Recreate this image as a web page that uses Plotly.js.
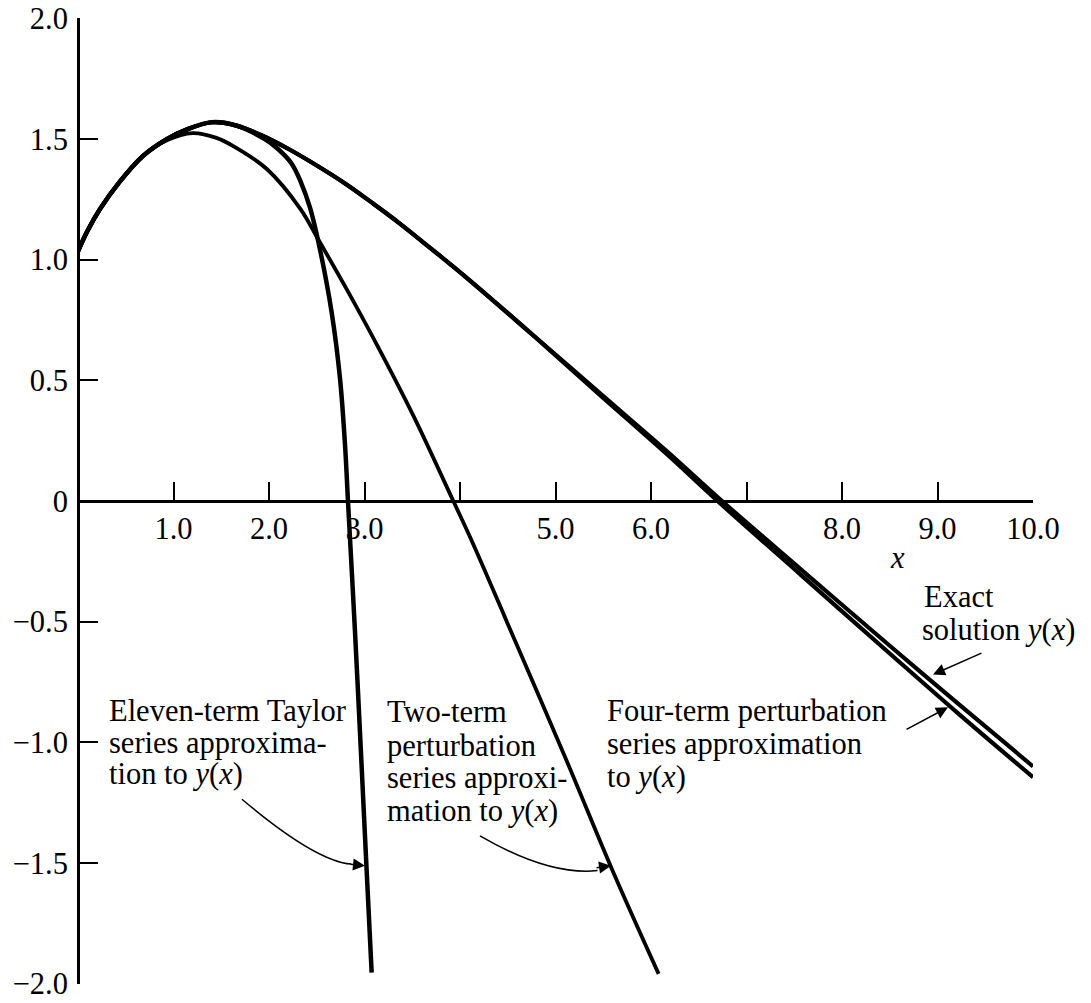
<!DOCTYPE html>
<html>
<head>
<meta charset="utf-8">
<script src="https://cdn.plot.ly/plotly-3.0.1.min.js"></script>
<style>html,body{margin:0;padding:0;background:#fff;}#chart{width:1091px;height:1003px;}</style>
</head>
<body>
<div id="chart"></div>
<script>
// Exact solution y(x)
const exactX = [0, 0.1, 0.23, 0.43, 0.68, 0.93, 1.14, 1.4, 1.65, 1.92, 2.2, 2.44, 2.8, 3.1, 3.37, 3.7, 4.07, 4.77, 5.47, 6.17, 6.72, 7.56, 8.5, 9.2, 10];
const exactY = [1.035, 1.12, 1.21, 1.32, 1.43, 1.50, 1.54, 1.57, 1.557, 1.516, 1.46, 1.405, 1.315, 1.23, 1.15, 1.045, 0.925, 0.686, 0.445, 0.205, 0.008, -0.28, -0.6, -0.835, -1.10];
// Four-term perturbation series
const fourX = [0, 0.1, 0.23, 0.43, 0.68, 0.93, 1.14, 1.4, 1.65, 1.92, 2.2, 2.44, 2.8, 3.1, 3.37, 3.7, 4.07, 4.77, 5.47, 6.17, 6.72, 7.56, 8.5, 9.2, 10];
const fourY = [1.035, 1.12, 1.21, 1.32, 1.43, 1.50, 1.54, 1.57, 1.557, 1.516, 1.46, 1.405, 1.315, 1.23, 1.15, 1.045, 0.925, 0.685, 0.438, 0.193, -0.008, -0.303, -0.632, -0.875, -1.145];
// Two-term perturbation series
const twoX = [0, 0.1, 0.23, 0.43, 0.68, 0.93, 1.2, 1.45, 1.63, 1.98, 2.33, 2.5, 2.81, 3.14, 3.51, 3.93, 4.14, 4.49, 5.12, 5.59, 6.08];
const twoY = [1.035, 1.12, 1.21, 1.32, 1.43, 1.495, 1.525, 1.505, 1.47, 1.375, 1.21, 1.095, 0.88, 0.64, 0.355, 0.0, -0.18, -0.5, -1.08, -1.525, -1.96];
// Eleven-term Taylor series
const taylorX = [0, 0.1, 0.23, 0.43, 0.68, 0.93, 1.14, 1.4, 1.65, 1.955, 2.094, 2.234, 2.33, 2.43, 2.53, 2.656, 2.743, 2.796, 2.827, 2.899, 2.967, 3.021, 3.075];
const taylorY = [1.035, 1.12, 1.21, 1.32, 1.43, 1.50, 1.54, 1.57, 1.557, 1.50, 1.459, 1.40, 1.325, 1.215, 1.05, 0.782, 0.51, 0.233, 0.0, -0.53, -1.075, -1.52, -1.955];

const xTickVals = [1, 2, 3, 4, 5, 6, 7, 8, 9, 10];
const xTickText = ['1.0', '2.0', '3.0', '', '5.0', '6.0', '', '8.0', '9.0', '10.0'];
const yTickVals = [-2, -1.5, -1, -0.5, 0, 0.5, 1, 1.5, 2];
const yTickText = ['\u22122.0', '\u22121.5', '\u22121.0', '\u22120.5', '0', '0.5', '1.0', '1.5', '2.0'];

const FONT = 'Liberation Serif, Times New Roman, serif';
const FS = 30.5;

function curve(x, y, w) {
  return {x: x, y: y, type: 'scatter', mode: 'lines',
    line: {color: '#000', width: w, shape: 'spline', smoothing: 1.0},
    hoverinfo: 'skip', showlegend: false};
}

const traces = [
  curve(exactX, exactY, 4.2),
  curve(fourX, fourY, 4.2),
  curve(twoX, twoY, 3.8),
  curve(taylorX, taylorY, 4.5)
];

function txt(x, y, t) {
  return {x: x, y: y, xref: 'x', yref: 'y', text: t, showarrow: false,
    xanchor: 'left', yanchor: 'middle', align: 'left',
    font: {family: FONT, size: FS, color: '#000'}};
}
const YX = '<i>y</i>(<i>x</i>)';
const annotations = [
  txt(0.304, -0.872, 'Eleven-term Taylor'),
  txt(0.304, -1.004, 'series approxima-'),
  txt(0.304, -1.132, 'tion to ' + YX),
  txt(3.215, -0.876, 'Two-term'),
  txt(3.215, -1.017, 'perturbation'),
  txt(3.215, -1.149, 'series approxi-'),
  txt(3.215, -1.285, 'mation to ' + YX),
  txt(5.518, -0.872, 'Four-term perturbation'),
  txt(5.518, -1.008, 'series approximation'),
  txt(5.518, -1.145, 'to ' + YX),
  txt(8.838, -0.397, 'Exact'),
  txt(8.817, -0.533, 'solution ' + YX),
  {x: 8.576, y: -0.236, xref: 'x', yref: 'y', text: '<i>x</i>', showarrow: false,
    xanchor: 'center', yanchor: 'middle', font: {family: FONT, size: FS, color: '#000'}},
  // arrowheads for curved pointers
  {x: 3.005, y: -1.512, xref: 'x', yref: 'y', text: '', showarrow: true,
    ax: -16, ay: -1.6, arrowhead: 2, arrowsize: 1.6, arrowwidth: 1.5, arrowcolor: '#000'},
  {x: 5.581, y: -1.512, xref: 'x', yref: 'y', text: '', showarrow: true,
    ax: -16, ay: 2.3, arrowhead: 2, arrowsize: 1.6, arrowwidth: 1.5, arrowcolor: '#000'},
  // straight pointers
  {x: 8.953, y: -0.719, xref: 'x', yref: 'y', text: '', showarrow: true,
    axref: 'x', ayref: 'y', ax: 9.476, ay: -0.628, arrowhead: 2, arrowsize: 1.6, arrowwidth: 1.5, arrowcolor: '#000'},
  {x: 9.110, y: -0.855, xref: 'x', yref: 'y', text: '', showarrow: true,
    axref: 'x', ayref: 'y', ax: 8.660, ay: -0.950, arrowhead: 2, arrowsize: 1.6, arrowwidth: 1.5, arrowcolor: '#000'}
];

const shapes = [
  {type: 'path', xref: 'x', yref: 'y', path: 'M1.717,-1.236 Q2.482,-1.492 2.86,-1.505',
    line: {color: '#000', width: 1.5}},
  {type: 'path', xref: 'x', yref: 'y', path: 'M4.209,-1.388 Q4.932,-1.554 5.44,-1.532',
    line: {color: '#000', width: 1.5}}
];

const layout = {
  width: 1091, height: 1003,
  margin: {l: 78, r: 58, t: 18, b: 19, pad: 0},
  paper_bgcolor: '#fff', plot_bgcolor: '#fff',
  font: {family: FONT, size: FS, color: '#000'},
  showlegend: false,
  xaxis: {range: [0, 10], anchor: 'free', position: 0.5,
    showline: true, linecolor: '#000', linewidth: 2.5,
    ticks: 'inside', ticklen: 18, tickwidth: 2, tickcolor: '#000',
    tickmode: 'array', tickvals: xTickVals, ticktext: xTickText,
    tickfont: {family: FONT, size: FS, color: '#000'}, ticklabelstandoff: 0,
    ticklabeloverflow: 'allow',
    showgrid: false, zeroline: false, automargin: false},
  yaxis: {range: [-2.002, 2.002], anchor: 'free', position: 0,
    showline: true, linecolor: '#000', linewidth: 2.5,
    ticks: 'inside', ticklen: 18, tickwidth: 2, tickcolor: '#000',
    tickmode: 'array', tickvals: yTickVals, ticktext: yTickText,
    tickfont: {family: FONT, size: FS, color: '#000'}, ticklabelstandoff: 3,
    ticklabeloverflow: 'allow',
    showgrid: false, zeroline: false, automargin: false},
  annotations: annotations,
  shapes: shapes
};

Plotly.newPlot('chart', traces, layout, {staticPlot: true, displayModeBar: false});
</script>
</body>
</html>
